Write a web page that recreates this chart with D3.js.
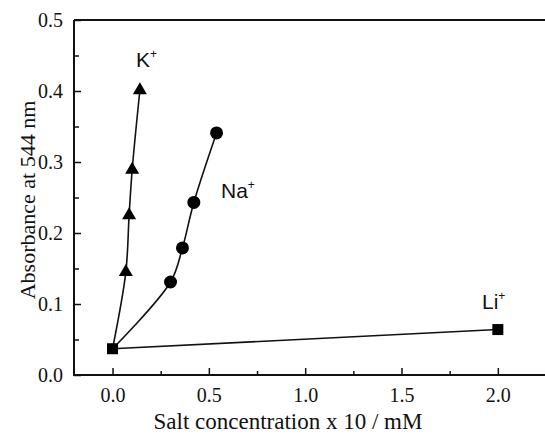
<!DOCTYPE html>
<html>
<head>
<meta charset="utf-8">
<script src="https://cdn.jsdelivr.net/npm/d3@7"></script>
<style>
  body { margin: 0; background: #fff; }
</style>
</head>
<body>
<div id="chart"></div>
<script>
// data
var kX = [0, 0.069, 0.086, 0.102, 0.142];
var kY = [0.037, 0.145, 0.225, 0.289, 0.401];
var naX = [0, 0.301, 0.363, 0.422, 0.54];
var naY = [0.037, 0.131, 0.179, 0.243, 0.341];
var liX = [0, 2.0];
var liY = [0.037, 0.064];

var xTicks = [0, 0.5, 1.0, 1.5, 2.0];
var yTicks = [0, 0.1, 0.2, 0.3, 0.4, 0.5];

var serif = "'Liberation Serif', 'Times New Roman', serif";
var sans = "'Liberation Sans', Arial, sans-serif";

var svgWidth = 545;
var svgHeight = 435;
var margin = { top: 20, right: 0, bottom: 60, left: 74 };
var width = 546 - margin.left;
var height = svgHeight - margin.top - margin.bottom;

var svg = d3.select("#chart")
    .append("svg")
    .attr("width", svgWidth)
    .attr("height", svgHeight);

var chartGroup = svg.append("g")
    .attr("transform", `translate(${margin.left},${margin.top})`);

var x = d3.scaleLinear().domain([-0.2, 2.25]).range([0, width]);
var y = d3.scaleLinear().domain([0, 0.5]).range([height, 0]);

// minor ticks first, then major with labels
chartGroup.append("g")
    .attr("transform", `translate(0,${height})`)
    .call(d3.axisBottom(x).tickValues([0.25, 0.75, 1.25, 1.75]).tickSize(-4).tickFormat(""))
    .call(g => g.select(".domain").remove());
chartGroup.append("g")
    .call(d3.axisLeft(y).tickValues([0.05, 0.15, 0.25, 0.35, 0.45]).tickSize(-5).tickFormat(""))
    .call(g => g.select(".domain").remove());

var xAxis = chartGroup.append("g")
    .attr("transform", `translate(0,${height})`)
    .call(d3.axisBottom(x).tickValues(xTicks).tickSize(-7).tickFormat(d3.format(".1f")));
xAxis.select(".domain").remove();

var yAxis = chartGroup.append("g")
    .call(d3.axisLeft(y).tickValues(yTicks).tickSize(-7).tickFormat(d3.format(".1f")));
yAxis.select(".domain").remove();

[xAxis, yAxis].forEach(function(ax) {
    ax.attr("font-family", serif).attr("font-size", 20);
    ax.selectAll("text")
        .style("font-family", serif)
        .style("font-size", "20px")
        .style("fill", "#111");
});
// place labels explicitly: x baselines at 402px, y labels ending 11px left of axis
xAxis.selectAll("text").attr("y", 27).attr("dy", 0);
yAxis.selectAll("text").attr("x", -11).attr("dy", "0.34em");

chartGroup.selectAll(".tick line").attr("stroke", "#111").attr("stroke-width", 1.5);

// frame (right edge falls off the picture)
chartGroup.append("path")
    .attr("d", `M0,0V${height}H${width}M0,0H${width}`)
    .attr("fill", "none")
    .attr("stroke", "#111")
    .attr("stroke-width", 2);

function pts(xs, ys) { return xs.map((v, i) => [v, ys[i]]); }

var lineStraight = d3.line().x(d => x(d[0])).y(d => y(d[1]));
var lineSmooth = d3.line().x(d => x(d[0])).y(d => y(d[1])).curve(d3.curveCatmullRom.alpha(0.5));

chartGroup.append("path").datum(pts(liX, liY))
    .attr("d", lineStraight).attr("fill", "none").attr("stroke", "#111").attr("stroke-width", 1.6);
chartGroup.append("path").datum(pts(kX, kY))
    .attr("d", lineSmooth).attr("fill", "none").attr("stroke", "#111").attr("stroke-width", 1.6);
chartGroup.append("path").datum(pts(naX, naY))
    .attr("d", lineSmooth).attr("fill", "none").attr("stroke", "#111").attr("stroke-width", 1.6);

// markers
chartGroup.selectAll(".tri").data(pts(kX, kY).slice(1)).enter()
    .append("path")
    .attr("d", d3.symbol().type(d3.symbolTriangle).size(85))
    .attr("transform", d => `translate(${x(d[0])},${y(d[1])})`)
    .attr("fill", "#000");

chartGroup.selectAll(".dot").data(pts(naX, naY).slice(1)).enter()
    .append("circle")
    .attr("cx", d => x(d[0]))
    .attr("cy", d => y(d[1]))
    .attr("r", 6.5)
    .attr("fill", "#000");

chartGroup.selectAll(".sq").data(pts(liX, liY)).enter()
    .append("rect")
    .attr("x", d => x(d[0]) - 5.5)
    .attr("y", d => y(d[1]) - 5.5)
    .attr("width", 11)
    .attr("height", 11)
    .attr("fill", "#000");

// ion labels
function ionLabel(txt, px, py) {
    var t = svg.append("text")
        .attr("x", px).attr("y", py)
        .attr("font-family", sans).attr("font-size", 21).attr("fill", "#111");
    t.append("tspan").text(txt);
    t.append("tspan").text("+").attr("font-size", 12).attr("dy", -9);
}
ionLabel("K", 136, 67);
ionLabel("Na", 221, 198);
ionLabel("Li", 482, 309);

// axis titles
svg.append("text")
    .attr("x", 288).attr("y", 429)
    .attr("text-anchor", "middle")
    .attr("font-family", serif).attr("font-size", 23).attr("fill", "#111")
    .text("Salt concentration x 10 / mM");

svg.append("text")
    .attr("transform", `translate(35,200) rotate(-90)`)
    .attr("text-anchor", "middle")
    .attr("font-family", serif).attr("font-size", 22).attr("fill", "#111")
    .text("Absorbance at 544 nm");
</script>
</body>
</html>
